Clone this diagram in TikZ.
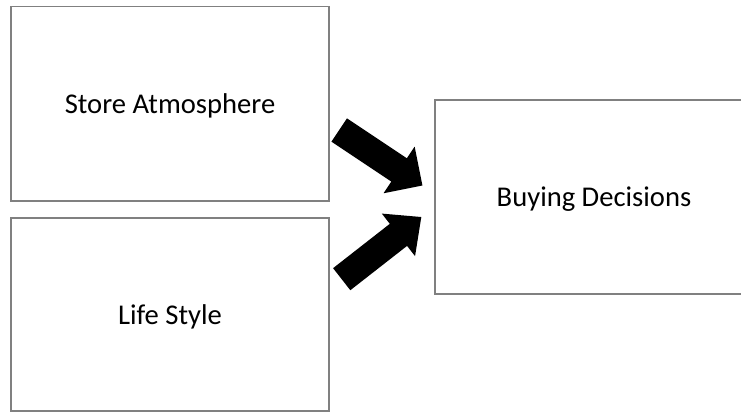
\documentclass[tikz,border=0pt]{standalone}
\usepackage{fontspec}
\setmainfont{Carlito}
\begin{document}
\begin{tikzpicture}[x=1pt,y=1pt,
  box/.style={draw=black!50, line width=1.2pt, fill=white, minimum width=318pt, inner sep=0pt,
              text depth=0pt, font=\fontsize{28.6}{34}\selectfont},
  blockarrow/.style={fill=black, draw=none}]
\useasboundingbox (0,0) rectangle (741,412);
\node[box, minimum height=194.5pt] (store) at (170,308.25) {Store Atmosphere};
\node[box, minimum height=193pt] (life) at (170,97.5) {Life Style};
\node[box, minimum height=194pt] (buy) at (594,215) {Buying Decisions};
% upper arrow
\begin{scope}[shift={(339.2,282)}, rotate=-33.7]
  \fill[blockarrow] (0,14) -- (72,14) -- (72,28) -- (100,0) -- (72,-28) -- (72,-14) -- (0,-14) -- cycle;
\end{scope}
% lower arrow
\begin{scope}[shift={(341.7,132.8)}, rotate=38]
  \fill[blockarrow] (0,14) -- (72,14) -- (72,27) -- (101,0) -- (72,-27) -- (72,-14) -- (0,-14) -- cycle;
\end{scope}
\end{tikzpicture}
\end{document}
